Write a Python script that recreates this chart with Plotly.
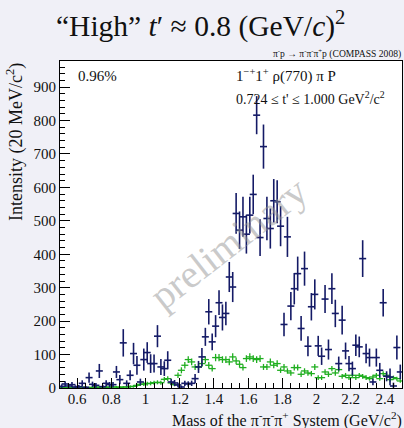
import plotly.graph_objects as go

# ---------------- data ----------------
mass = [round(0.51 + 0.02 * i, 2) for i in range(100)]  # bin centres (20 MeV bins)

wave_intensity = [
    5, 12, 6, 10, 3, 4, 14, 2, 31, 11,
    8, 51, 4, 14, 10, 10, 48, 25, 135, 14,
    38, 103, 68, 18, 85, 106, 73, 73, 155, 63,
    58, 83, 18, 15, 9, 3, 14, 12, 14, 28,
    63, 93, 153, 228, 138, 185, 255, 211, 223, 332,
    302, 522, 472, 512, 460, 517, 579, 816, 450, 722,
    507, 477, 560, 557, 484, 190, 452, 245, 297, 342,
    178, 357, 125, 243, 280, 126, 95, 266, 115, 297,
    223, 73, 203, 111, 73, 58, 128, 123, 387, 103,
    91, 18, 91, 53, 255, 35, 33, 6, 121, 48,
]
wave_error = [
    6, 8, 6, 8, 5, 5, 9, 4, 15, 8,
    7, 21, 5, 9, 8, 8, 18, 14, 41, 9,
    15, 32, 28, 10, 33, 31, 28, 27, 33, 24,
    22, 27, 10, 9, 7, 4, 8, 8, 8, 14,
    18, 27, 27, 38, 25, 33, 37, 39, 35, 45,
    45, 61, 56, 60, 58, 55, 59, 57, 55, 66,
    65, 60, 65, 64, 60, 35, 60, 42, 47, 51,
    37, 51, 30, 41, 45, 30, 26, 42, 30, 46,
    41, 21, 43, 25, 23, 21, 32, 31, 55, 29,
    27, 10, 27, 22, 41, 15, 25, 10, 36, 22,
]
model_intensity = [
    1, 1, 2, 1, 2, 1, 2, 2, 1, 2,
    3, 2, 2, 3, 2, 3, 3, 2, 3, 3,
    4, 5, 8, 11, 12, 13, 14, 16, 17, 16,
    26, 28, 15, 10, 38, 53, 68, 85, 78, 63,
    63, 73, 85, 68, 58, 91, 91, 85, 85, 78,
    93, 81, 71, 61, 88, 93, 88, 85, 88, 63,
    63, 78, 68, 73, 53, 63, 51, 45, 61, 61,
    41, 51, 45, 43, 63, 31, 31, 48, 41, 58,
    45, 55, 35, 38, 31, 38, 31, 38, 35, 31,
    28, 33, 38, 28, 43, 38, 25, 31, 28, 21,
]
model_error = [
    2, 2, 2, 2, 2, 2, 2, 2, 2, 2,
    3, 3, 3, 3, 3, 3, 3, 3, 3, 3,
    4, 4, 5, 5, 6, 6, 6, 6, 6, 6,
    7, 7, 6, 5, 8, 9, 10, 10, 10, 9,
    9, 10, 10, 10, 9, 11, 11, 10, 10, 10,
    11, 10, 10, 9, 10, 11, 10, 10, 10, 9,
    9, 10, 9, 10, 8, 9, 8, 8, 9, 9,
    8, 8, 8, 8, 9, 7, 7, 8, 8, 8,
    8, 8, 7, 7, 7, 7, 7, 7, 7, 7,
    6, 7, 7, 6, 7, 7, 6, 6, 6, 5,
]

x_tick_vals = [0.6, 0.8, 1.0, 1.2, 1.4, 1.6, 1.8, 2.0, 2.2, 2.4]
x_tick_text = ["0.6", "0.8", "1", "1.2", "1.4", "1.6", "1.8", "2", "2.2", "2.4"]
y_tick_vals = [0, 100, 200, 300, 400, 500, 600, 700, 800, 900]

# ---------------- styling / layout ----------------
W, H = 404, 428
ML, MR, MT, MB = 60, 2, 61, 40
PW, PH = W - ML - MR, H - MT - MB
NAVY = "#141a66"
GREEN = "#1fae1f"
SERIF = "Liberation Serif, Times New Roman, serif"


def px(xp):
    return (xp - ML) / PW


def py(yp):
    return (H - MB - yp) / PH


fig = go.Figure()

fig.add_trace(go.Scatter(
    x=mass, y=model_intensity, mode="markers",
    marker=dict(symbol="line-ew", size=5, line=dict(color=GREEN, width=1.3)),
    error_y=dict(type="data", array=model_error, color=GREEN, thickness=1.3, width=0),
    showlegend=False, hoverinfo="skip",
))
fig.add_trace(go.Scatter(
    x=mass, y=wave_intensity, mode="markers",
    marker=dict(symbol="line-ew", size=5, line=dict(color=NAVY, width=1.6)),
    error_y=dict(type="data", array=wave_error, color=NAVY, thickness=1.6, width=0),
    showlegend=False, hoverinfo="skip",
))

axis_common = dict(
    showgrid=False, zeroline=False, showline=True, linecolor="black", linewidth=1,
    mirror=True, ticks="inside", tickcolor="black", ticklen=10, tickwidth=1,
    tickfont=dict(family=SERIF, size=15, color="#111"),
)
fig.update_xaxes(
    range=[0.5, 2.5], tickvals=x_tick_vals, ticktext=x_tick_text,
    ticklabelstandoff=-3,
    minor=dict(ticks="inside", ticklen=5, tick0=0.5, dtick=0.05, tickcolor="black"),
    **axis_common,
)
fig.update_yaxes(
    range=[0, 978], tickvals=y_tick_vals,
    minor=dict(ticks="inside", ticklen=5, tick0=0, dtick=20, tickcolor="black"),
    **axis_common,
)

ann = []
ann.append(dict(text="\u201cHigh\u201d <i>t</i>\u2032 \u2248 0.8 (GeV/<i>c</i>)<sup>2</sup>",
                x=px(200), y=py(24), xref="paper", yref="paper", showarrow=False,
                xanchor="center", yanchor="middle",
                font=dict(family=SERIF, size=29.5, color="#111")))
ann.append(dict(text="\u03c0<sup>-</sup>p \u2192 \u03c0<sup>-</sup>\u03c0<sup>-</sup>\u03c0<sup>+</sup>p (COMPASS 2008)",
                x=px(403), y=py(53), xref="paper", yref="paper", showarrow=False,
                xanchor="right", yanchor="middle",
                font=dict(family=SERIF, size=9.6, color="#111")))
ann.append(dict(text="0.96%", x=px(76), y=py(76), xref="paper", yref="paper",
                showarrow=False, xanchor="left", yanchor="middle",
                font=dict(family=SERIF, size=15, color="#111")))
ann.append(dict(text="1<sup>\u2212+</sup>1<sup>+</sup> \u03c1(770) \u03c0 P", x=px(234), y=py(76),
                xref="paper", yref="paper", showarrow=False, xanchor="left", yanchor="middle",
                font=dict(family=SERIF, size=15, color="#111")))
ann.append(dict(text="0.724 \u2264 t' \u2264 1.000 GeV<sup>2</sup>/c<sup>2</sup>", x=px(234), y=py(98),
                xref="paper", yref="paper", showarrow=False, xanchor="left", yanchor="middle",
                font=dict(family=SERIF, size=14, color="#111")))
ann.append(dict(text="preliminary", x=px(228), y=py(243), xref="paper", yref="paper",
                showarrow=False, textangle=-38, xanchor="center", yanchor="middle",
                font=dict(family=SERIF, size=40, color="rgba(150,150,150,0.5)")))
ann.append(dict(text="Mass of the \u03c0<sup>-</sup>\u03c0<sup>-</sup>\u03c0<sup>+</sup> System (GeV/c<sup>2</sup>)",
                x=px(404), y=py(419), xref="paper", yref="paper", showarrow=False,
                xanchor="right", yanchor="middle",
                font=dict(family=SERIF, size=16, color="#111")))
ann.append(dict(text="Intensity (20 MeV/c<sup>2</sup>)", x=px(15), y=py(61),
                xref="paper", yref="paper", showarrow=False, textangle=-90,
                xanchor="center", yanchor="top",
                font=dict(family=SERIF, size=18, color="#111")))

fig.update_layout(
    width=W, height=H, autosize=False,
    margin=dict(l=ML, r=MR, t=MT, b=MB, pad=0),
    paper_bgcolor="#f0f0f7", plot_bgcolor="white",
    annotations=ann, showlegend=False,
)

fig.write_html("out.html", include_plotlyjs=True, config={"displayModeBar": False})
